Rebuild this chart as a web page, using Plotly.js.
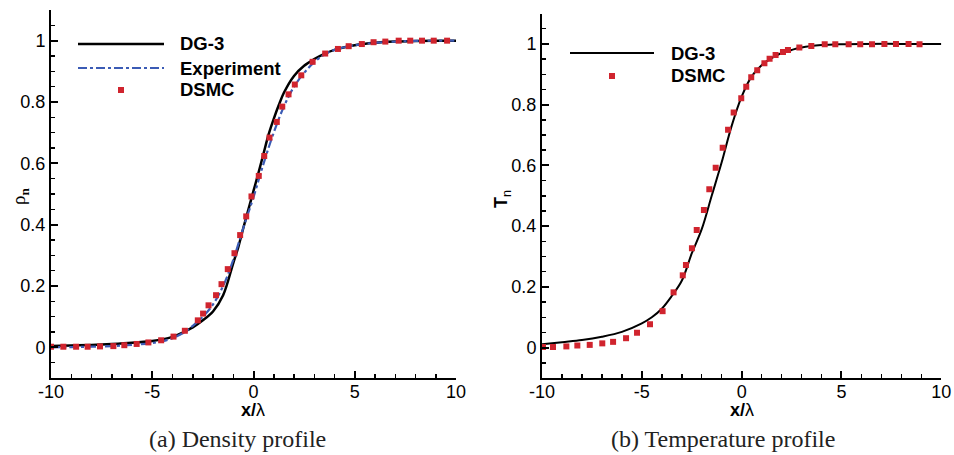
<!DOCTYPE html>
<html>
<head>
<meta charset="utf-8">
<script src="https://cdn.plot.ly/plotly-3.0.1.min.js"></script>
<style>html,body{margin:0;padding:0;background:#fff;}#chart{width:954px;height:455px;}</style>
</head>
<body>
<div id="chart"></div>
<script>
// ---- Data ----
// (a) Density profile
const dgRhoX = [-10,-9,-8,-7,-6,-5,-4.5,-4,-3.5,-3,-2.5,-2,-1.5,-1,-0.75,-0.5,-0.25,0,0.25,0.5,0.75,1,1.25,1.5,2,2.5,3,3.5,4,5,6,7,8,9,10];
const dgRhoY = [0.004,0.006,0.008,0.011,0.015,0.021,0.026,0.034,0.048,0.065,0.088,0.117,0.170,0.275,0.327,0.390,0.450,0.510,0.570,0.633,0.695,0.745,0.790,0.830,0.885,0.918,0.940,0.957,0.970,0.985,0.993,0.997,0.999,1.0,1.0];

const expRhoX = [-10,-9,-8,-7,-6,-5,-4.5,-4,-3.5,-3,-2.5,-2,-1.5,-1,-0.5,0,0.5,1,1.5,2,2.5,3,3.5,4,5,6,7,8,9,10];
const expRhoY = [0.0,0.001,0.002,0.004,0.008,0.014,0.020,0.030,0.046,0.070,0.100,0.140,0.200,0.285,0.390,0.490,0.600,0.700,0.785,0.850,0.895,0.930,0.955,0.970,0.985,0.993,0.997,0.999,1.0,1.0];

const dsmcRhoX = [-10.0,-9.39,-8.76,-8.19,-7.58,-6.92,-6.38,-5.77,-5.19,-4.56,-3.95,-3.39,-2.75,-2.49,-2.22,-1.85,-1.58,-1.27,-0.94,-0.66,-0.36,-0.10,0.26,0.53,0.79,1.15,1.42,1.73,2.04,2.36,2.92,3.54,4.17,4.70,5.35,5.93,6.51,7.17,7.74,8.32,8.90,9.56];
const dsmcRhoY = [0.002,0.002,0.002,0.002,0.003,0.004,0.007,0.011,0.016,0.023,0.035,0.054,0.088,0.110,0.137,0.170,0.206,0.255,0.307,0.366,0.427,0.492,0.559,0.624,0.684,0.735,0.785,0.825,0.857,0.887,0.931,0.958,0.973,0.982,0.989,0.995,0.997,1.0,1.0,1.0,1.0,1.0];

// (b) Temperature profile
const dgTX = [-10,-9,-8,-7,-6,-5,-4.5,-4,-3.5,-3,-2.5,-2,-1.5,-1,-0.5,0,0.5,1,1.5,2,2.5,3,4,5,6,8,10];
const dgTY = [0.011,0.018,0.025,0.036,0.052,0.080,0.100,0.128,0.170,0.220,0.310,0.390,0.500,0.610,0.730,0.826,0.893,0.930,0.953,0.970,0.980,0.988,0.996,0.999,1.0,1.0,1.0];

const dsmcTX = [-9.95,-9.45,-8.78,-8.23,-7.61,-6.98,-6.44,-5.79,-5.24,-4.59,-3.96,-3.41,-2.95,-2.79,-2.49,-2.25,-1.89,-1.62,-1.30,-0.95,-0.68,-0.40,-0.02,0.23,0.48,0.78,1.14,1.40,1.70,2.07,2.32,2.89,3.49,4.16,4.69,5.36,5.94,6.53,7.15,7.73,8.36,8.91];
const dsmcTY = [0.002,0.002,0.004,0.007,0.009,0.014,0.019,0.031,0.049,0.077,0.120,0.182,0.238,0.272,0.327,0.387,0.453,0.521,0.592,0.658,0.717,0.774,0.821,0.859,0.890,0.913,0.936,0.951,0.963,0.973,0.980,0.988,0.993,0.999,0.999,0.999,0.999,0.999,1.0,1.0,1.0,0.999];

// Tick labels
const xTickVals = [-10,-5,0,5,10];
const xTickText = ["-10","-5","0","5","10"];
const yTickVals = [0,0.2,0.4,0.6,0.8,1];
const yTickText = ["0","0.2","0.4","0.6","0.8","1"];

// Text
const seriesNames = ["DG-3","Experiment","DSMC"];
const captions = ["(a) Density profile","(b) Temperature profile"];

// ---- Styling ----
const RED = "#d0242e", BLUE = "#3b5bb5", BLACK = "#000000";
const W = 954, H = 455;
const px = v => v / W, py = v => 1 - v / H;
const SANS = "Liberation Sans, Arial";

function xAxis(domain) {
  return {
    domain: domain, range: [-10, 10], showgrid: false, zeroline: false,
    showline: true, linecolor: BLACK, linewidth: 2, mirror: false,
    ticks: "inside", ticklen: 7, tickwidth: 2, tickcolor: BLACK,
    tickvals: xTickVals, ticktext: xTickText, ticklabelstandoff: -4,
    tickfont: {family: SANS, size: 18, color: BLACK},
    minor: {dtick: 1, tick0: 0, ticks: "inside", ticklen: 4, tickwidth: 1.5, tickcolor: BLACK, showgrid: false},
    fixedrange: true
  };
}
function yAxis(domain, anchor) {
  return {
    domain: domain, range: [-0.1, 1.1], anchor: anchor, showgrid: false, zeroline: false,
    showline: true, linecolor: BLACK, linewidth: 2, mirror: false,
    ticks: "inside", ticklen: 7, tickwidth: 2, tickcolor: BLACK,
    tickvals: yTickVals, ticktext: yTickText,
    tickfont: {family: SANS, size: 18, color: BLACK},
    minor: {dtick: 0.05, tick0: 0, ticks: "inside", ticklen: 4, tickwidth: 1.5, tickcolor: BLACK, showgrid: false},
    fixedrange: true
  };
}

const traces = [
  {x: dgRhoX, y: dgRhoY, xaxis: "x", yaxis: "y", mode: "lines", name: seriesNames[0],
   line: {color: BLACK, width: 2.5, shape: "spline"}},
  {x: expRhoX, y: expRhoY, xaxis: "x", yaxis: "y", mode: "lines", name: seriesNames[1],
   line: {color: BLUE, width: 2.2, dash: "9px,3px,3px,3px", shape: "spline"}},
  {x: dsmcRhoX, y: dsmcRhoY, xaxis: "x", yaxis: "y", mode: "markers", name: seriesNames[2],
   marker: {symbol: "square", size: 6, color: RED}},
  {x: dgTX, y: dgTY, xaxis: "x2", yaxis: "y2", mode: "lines", name: seriesNames[0],
   line: {color: BLACK, width: 2, shape: "spline"}},
  {x: dsmcTX, y: dsmcTY, xaxis: "x2", yaxis: "y2", mode: "markers", name: seriesNames[2],
   marker: {symbol: "square", size: 6, color: RED}}
];

const legFont = {family: SANS, size: 18.5, color: BLACK};
const annots = [
  // legend (a)
  {text: "<b>" + seriesNames[0] + "</b>", x: px(178), y: py(44)},
  {text: "<b>" + seriesNames[1] + "</b>", x: px(178), y: py(68)},
  {text: "<b>" + seriesNames[2] + "</b>", x: px(178), y: py(90)},
  // legend (b)
  {text: "<b>" + seriesNames[0] + "</b>", x: px(669), y: py(53)},
  {text: "<b>" + seriesNames[2] + "</b>", x: px(669), y: py(76)}
].map(a => Object.assign({xref: "paper", yref: "paper", xanchor: "left", yanchor: "middle", showarrow: false, font: legFont}, a));

// axis titles
annots.push(
  {text: "<b>x/</b>λ", x: px(253), y: py(410), xref: "paper", yref: "paper", xanchor: "center", yanchor: "middle", showarrow: false,
   font: {family: SANS, size: 18, color: BLACK}},
  {text: "<b>x/</b>λ", x: px(742), y: py(410), xref: "paper", yref: "paper", xanchor: "center", yanchor: "middle", showarrow: false,
   font: {family: SANS, size: 18, color: BLACK}},
  {text: "ρ<sub><b>n</b></sub>", x: px(20), y: py(197), xref: "paper", yref: "paper", xanchor: "center", yanchor: "middle", showarrow: false, textangle: -90,
   font: {family: "Liberation Serif, Times New Roman", size: 19, color: BLACK}},
  {text: "<b>T</b><sub>n</sub>", x: px(502), y: py(199), xref: "paper", yref: "paper", xanchor: "center", yanchor: "middle", showarrow: false, textangle: -90,
   font: {family: SANS, size: 18, color: BLACK}},
  // captions
  {text: captions[0], x: px(237), y: py(439), xref: "paper", yref: "paper", xanchor: "center", yanchor: "middle", showarrow: false,
   font: {family: "Liberation Serif, Times New Roman", size: 24, color: "#222"}},
  {text: captions[1], x: px(723), y: py(439), xref: "paper", yref: "paper", xanchor: "center", yanchor: "middle", showarrow: false,
   font: {family: "Liberation Serif, Times New Roman", size: 24, color: "#222"}}
);

const shapes = [
  {type: "line", xref: "paper", yref: "paper", x0: px(78), x1: px(164), y0: py(44), y1: py(44), line: {color: BLACK, width: 2.5}},
  {type: "line", xref: "paper", yref: "paper", x0: px(78), x1: px(164), y0: py(68), y1: py(68), line: {color: BLUE, width: 2.2, dash: "9px,3px,3px,3px"}},
  {type: "rect", xref: "paper", yref: "paper", x0: px(118), x1: px(124), y0: py(93), y1: py(87), line: {width: 0}, fillcolor: RED},
  {type: "line", xref: "paper", yref: "paper", x0: px(570), x1: px(654), y0: py(53), y1: py(53), line: {color: BLACK, width: 2}},
  {type: "rect", xref: "paper", yref: "paper", x0: px(609), x1: px(615), y0: py(79), y1: py(73), line: {width: 0}, fillcolor: RED}
];

const layout = {
  width: W, height: H, margin: {l: 0, r: 0, t: 0, b: 0},
  paper_bgcolor: "#fff", plot_bgcolor: "#fff", showlegend: false,
  xaxis: Object.assign(xAxis([51 / W, 456 / W]), {anchor: "y"}),
  yaxis: yAxis([1 - 378 / H, 1 - 10 / H], "x"),
  xaxis2: Object.assign(xAxis([542 / W, 941.3 / W]), {anchor: "y2"}),
  yaxis2: yAxis([1 - 378 / H, 1 - 13.5 / H], "x2"),
  annotations: annots, shapes: shapes
};

Plotly.newPlot("chart", traces, layout, {staticPlot: true, displayModeBar: false});
</script>
</body>
</html>
